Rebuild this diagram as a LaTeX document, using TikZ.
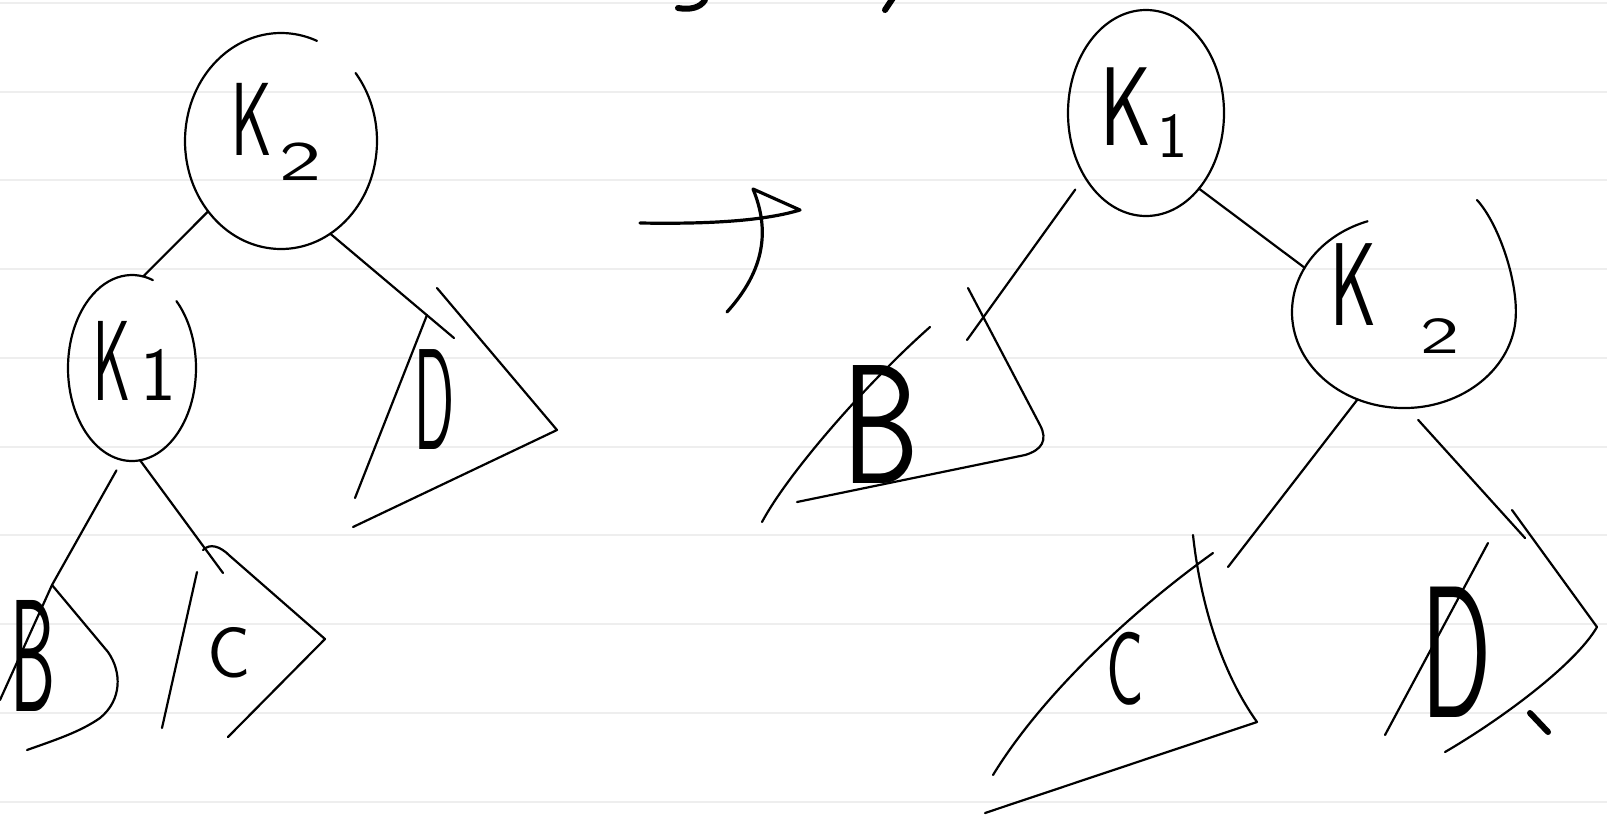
\documentclass[tikz,border=0pt]{standalone}
\usepackage{fontspec}
\usepackage{graphicx}
\usetikzlibrary{shapes.geometric}
\definecolor{ruleline}{HTML}{EEEEEE}
\tikzset{
  pen/.style={line width=1.1pt, line cap=round, line join=round},
  inkstroke/.style={line width=3pt, line cap=round},
  ell/.style={ellipse, inner sep=0pt, outer sep=0pt, draw=none},
  klab/.style={inner sep=0pt, outer sep=0pt, font=\sffamily, anchor=base west},
  letter/.style={inner sep=0pt, outer sep=0pt, font=\sffamily},
}
\begin{document}
\begin{tikzpicture}[x=0.5pt,y=-0.5pt]
\useasboundingbox (0,0) rectangle (1607,821);
\fill[white] (0,0) rectangle (1607,821);
\foreach \yy in {3,92,180,269,358,447,535,624,713,802}
  \draw[ruleline, line width=1pt] (0,\yy) -- (1607,\yy);

% top cut-off strokes
\draw[inkstroke] (678,8) .. controls (690,10) and (700,8) .. (705,0);
\draw[inkstroke] (885,10) -- (893,-2);

% ---------- left tree ----------
\node[ell, minimum width=96pt, minimum height=108pt] (K2) at (281,141) {};
\node[ell, minimum width=64pt, minimum height=93pt] (K1) at (132,368) {};
\draw[pen] (K2.center) ++(-39:96 and 108) arc[start angle=-39, end angle=292, x radius=96, y radius=108];
\draw[pen] (K1.center) ++(-46:64 and 93) arc[start angle=-46, end angle=289, x radius=64, y radius=93];

\node[klab] (K2t) at (231,155) {\scalebox{0.6}[1]{\fontsize{52}{52}\selectfont K}\kern4pt\raisebox{-12.5pt}{\scalebox{1.6}[1]{\fontsize{28}{28}\selectfont 2}}};
\node[klab] (K1t) at (93,400) {\scalebox{0.5}[1]{\fontsize{57}{57}\selectfont K}\kern5pt{\fontsize{38}{38}\selectfont 1}};

\coordinate (dTip) at (454,338);
\coordinate (bTip) at (52,585);
\coordinate (cTip) at (223,573);
\draw[pen] (K2.224) -- (K1.83);
\draw[pen] (K2.298) -- (dTip);
\draw[pen, shorten <=6pt] (K1.264) -- (bTip);
\draw[pen] (K1.275) -- (cTip);

% subtree B (left)
\draw[pen] (bTip) -- (0,700);
\draw[pen] (bTip) -- (108,652) .. controls (122,672) and (122,700) .. (100,718) .. controls (80,732) and (55,740) .. (27,750);
\node[letter] (Bl) at (33,656) {\scalebox{0.45}[1]{\fontsize{80}{80}\selectfont B}};
% subtree C (left)
\draw[pen] (203,550) .. controls (210,543) and (220,546) .. (230,556) -- (325,639) -- (228,737);
\draw[pen] (197,572) -- (162,728);
\node[letter] (Cl) at (229,653) {\fontsize{36}{36}\selectfont C};
% subtree D (left)
\draw[pen] (427,315) -- (355,498);
\draw[pen] (437,288) -- (557,430) -- (353,527);
\node[letter] (Dl) at (435,400) {\scalebox{0.41}[1]{\fontsize{72}{72}\selectfont D}};

% ---------- arrow ----------
\draw[pen, line width=1.6pt] (640,223) .. controls (700,224) and (760,222) .. (800,210) -- (753,189) .. controls (770,230) and (765,270) .. (727,312);

% ---------- right tree ----------
\node[ell, minimum width=78pt, minimum height=103pt] (K1r) at (1146,113) {};
\node[ell, minimum width=112pt, minimum height=96pt] (K2r) at (1404,312) {};
\draw[pen] (K1r.center) ellipse[x radius=78, y radius=103];
\draw[pen] (1477,200) .. controls (1500,225) and (1522,291) .. (1514.3,328.7) arc[start angle=10, end angle=251, x radius=112, y radius=96];

\node[klab] (K1rt) at (1100,145) {\scalebox{0.7}[1]{\fontsize{56}{56}\selectfont K}\kern3pt\raisebox{-6pt}{\fontsize{32}{32}\selectfont 1}};
\node[klab] (K2rt) at (1330,325) {\scalebox{0.6}[1]{\fontsize{59}{59}\selectfont K}\kern22pt\raisebox{-14pt}{\scalebox{1.6}[1]{\fontsize{26}{26}\selectfont 2}}};

\coordinate (bTipR) at (967,340);
\coordinate (cTipR) at (1228,567);
\coordinate (dTipR) at (1525,538);
\draw[pen, shorten <=8pt] (K1r.226) -- (bTipR);
\draw[pen] (K1r.305) -- (K2r.156);
\draw[pen] (K2r.242) -- (cTipR);
\draw[pen, shorten <=8pt] (K2r.272) -- (dTipR);

% subtree B (right)
\draw[pen] (968,288) -- (1040,425) .. controls (1048,440) and (1042,450) .. (1025,455) -- (797,502);
\draw[pen] (930,327) .. controls (870,380) and (790,470) .. (762,522);
\node[letter] (Br) at (881,424) {\scalebox{0.72}[1]{\fontsize{85}{85}\selectfont B}};
% subtree C (right)
\draw[pen] (1193,535) .. controls (1200,600) and (1220,670) .. (1257,722) -- (985,813);
\draw[pen] (1213,553) .. controls (1140,605) and (1045,690) .. (993,775);
\node[letter] (Cr) at (1125,669) {\scalebox{0.6}[1]{\fontsize{52}{52}\selectfont C}};
% subtree D (right)
\draw[pen] (1512,510) -- (1597,627) .. controls (1575,665) and (1500,720) .. (1445,752);
\draw[pen] (1488,543) -- (1385,735);
\draw[inkstroke] (1530,713) -- (1548,732);
\node[letter] (Dr) at (1457,652) {\scalebox{0.55}[1]{\fontsize{94}{94}\selectfont D}};
\end{tikzpicture}
\end{document}
